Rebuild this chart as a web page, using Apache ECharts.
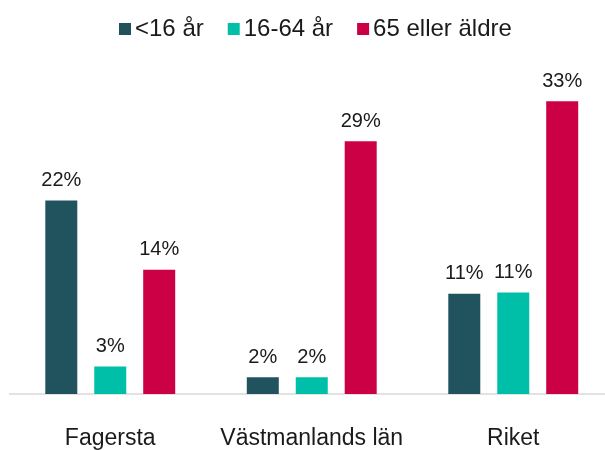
<!DOCTYPE html>
<html>
<head>
<meta charset="utf-8">
<script src="https://cdn.jsdelivr.net/npm/echarts@6/dist/echarts.min.js"></script>
<style>
html,body{margin:0;padding:0;background:#fff;overflow:hidden;}
#chart{width:625px;height:450px;}
</style>
</head>
<body>
<div id="chart"></div>
<script>
const categories = ['Fagersta', 'Västmanlands län', 'Riket'];
const seriesNames = ['<16 år', '16-64 år', '65 eller äldre'];
const under16 = [21.8, 1.9, 11.3];
const age16to64 = [3.1, 1.9, 11.45];
const age65plus = [14.0, 28.5, 33.0];
const colors = ['#20535E', '#00BFA8', '#CC0044'];

const font = 'Liberation Sans, Arial, sans-serif';
const chart = echarts.init(document.getElementById('chart'));
const mk = (name, data, color) => ({
  name: name,
  type: 'bar',
  data: data,
  barWidth: 32,
  barGap: '53%',
  itemStyle: { color: color },
  label: {
    show: true,
    position: 'top',
    distance: 10,
    fontFamily: font,
    fontSize: 20,
    color: '#1a1a1a',
    formatter: p => Math.round(p.value) + '%'
  }
});
chart.setOption({
  animation: false,
  legend: {
    top: 12,
    left: 114,
    itemWidth: 12,
    itemHeight: 12,
    itemGap: 24,
    icon: 'rect',
    textStyle: { fontFamily: font, fontSize: 24, color: '#1a1a1a', padding: [0, 0, 0, -1] },
    data: seriesNames
  },
  grid: { left: 9.5, width: 604.5, top: 83.5, bottom: 56 },
  xAxis: {
    type: 'category',
    data: categories,
    axisLine: { lineStyle: { color: '#d9d9d9', width: 1.5 } },
    axisTick: { show: false },
    axisLabel: { fontFamily: font, fontSize: 23, color: '#1a1a1a', margin: 33, interval: 0 }
  },
  yAxis: {
    type: 'value',
    min: 0,
    max: 35,
    show: false,
    splitLine: { show: false }
  },
  series: [
    mk(seriesNames[0], under16, colors[0]),
    mk(seriesNames[1], age16to64, colors[1]),
    mk(seriesNames[2], age65plus, colors[2])
  ]
});
</script>
</body>
</html>
